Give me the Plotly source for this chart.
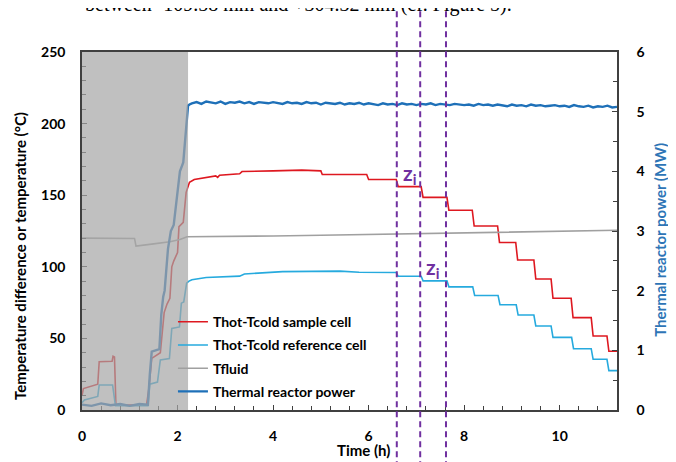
import plotly.graph_objects as go

# ---------------- data ----------------
t_sample = [0.0, 0.03, 0.33, 0.36, 0.63, 0.65, 0.68, 0.71, 1.35, 1.40, 1.46, 1.64, 1.72, 1.78,
            1.84, 1.88, 1.92, 2.00, 2.03, 2.12, 2.18, 2.22, 2.25, 2.35, 2.60, 2.80, 2.84, 2.88,
            3.30, 3.35, 4.00, 4.60, 5.00, 5.03, 5.96, 6.00, 6.58, 6.62, 7.10, 7.14, 7.64, 7.68,
            8.17, 8.21, 8.70, 8.74, 9.08, 9.12, 9.46, 9.50, 9.82, 9.86, 10.24, 10.28, 10.66,
            10.70, 10.99, 11.03, 11.20]
v_sample = [10, 15, 18, 33.7, 34, 37.5, 37, 3.5, 3.5, 15, 36, 40, 68, 74,
            78, 100, 104, 110, 128, 131, 152, 157, 159, 161, 162.5, 163.5, 162.5, 164,
            165, 166.5, 167, 167.5, 167, 164.5, 164.5, 161, 161, 156, 156, 148.5, 148.5, 139.5,
            139.5, 128.5, 128.5, 117, 117, 104.7, 104.7, 91.5, 91.5, 78, 78, 64.5, 64.5,
            51.7, 51.7, 41, 41]

t_ref = [0.0, 0.05, 0.33, 0.36, 0.64, 0.70, 1.38, 1.42, 1.58, 1.64, 1.83, 1.88, 2.04, 2.08,
         2.13, 2.19, 2.24, 2.30, 2.60, 3.30, 3.40, 4.20, 5.40, 5.80, 6.58, 6.62, 7.10, 7.14,
         7.64, 7.68, 8.18, 8.22, 8.71, 8.75, 9.09, 9.13, 9.46, 9.50, 9.82, 9.86, 10.25, 10.29,
         10.66, 10.70, 10.99, 11.03, 11.20]
v_ref = [5, 7, 9.5, 17.5, 17.5, 3, 3, 18, 19.5, 35, 36, 57, 58, 74.6,
         75.5, 88.6, 90, 91, 92.5, 93.5, 95, 96.6, 97, 96.2, 96, 93.4, 93.4, 90.2,
         90.2, 86, 86, 80, 80, 73.5, 73.5, 66.3, 66.3, 58.7, 58.7, 50.7, 50.7, 42.8,
         42.8, 35.4, 35.4, 27.5, 27.5]

t_fluid = [0.0, 1.10, 1.13, 1.30, 1.50, 1.84, 2.05, 2.20, 2.50, 4.00, 5.00, 6.50, 8.00, 9.50, 11.20]
v_fluid = [120, 119.8, 114.5, 115, 116, 117.5, 119, 121, 121, 121.5, 122, 122.8, 123.5, 124.2, 125.5]

t_power_start = [0.0, 0.2, 0.4, 0.6, 0.8, 1.0, 1.2, 1.38, 1.42, 1.46, 1.62, 1.66, 1.70, 1.73,
                 1.80, 1.86, 1.92, 2.00, 2.05, 2.12, 2.17, 2.22, 2.25]
p_power_start = [0.09, 0.07, 0.11, 0.08, 0.10, 0.07, 0.10, 0.09, 0.6, 0.98, 1.02, 1.6, 1.9, 2.0,
                 2.7, 3.0, 3.1, 3.6, 4.0, 4.15, 4.6, 5.1, 5.12]
p_power_flat = [5.14, 5.16, 5.13, 5.17, 5.15, 5.14, 5.17, 5.13, 5.16, 5.15, 5.17, 5.14, 5.16, 5.13,
                5.16, 5.15, 5.14, 5.16,
                5.15, 5.13, 5.16, 5.14, 5.15, 5.13, 5.16, 5.14, 5.15, 5.12, 5.15, 5.14, 5.13, 5.15,
                5.12, 5.14, 5.13, 5.15, 5.12, 5.14,
                5.13, 5.11, 5.14, 5.12, 5.13, 5.11, 5.14, 5.12, 5.13, 5.11, 5.13, 5.12, 5.14, 5.11,
                5.13, 5.12, 5.11, 5.13, 5.12, 5.11,
                5.12, 5.10, 5.13, 5.11, 5.12, 5.10, 5.12, 5.11, 5.09, 5.12, 5.10, 5.11, 5.09, 5.12,
                5.10, 5.11, 5.09, 5.10, 5.11, 5.09,
                5.10, 5.08, 5.11, 5.09, 5.08, 5.10, 5.07, 5.09, 5.08, 5.10, 5.07, 5.08]
t_power_flat = [round(2.3 + 0.1 * i, 2) for i in range(len(p_power_flat))]
t_power = t_power_start + t_power_flat
p_power = p_power_start + p_power_flat

gray_zone_end = 2.22
z_lines = [6.59, 7.08, 7.62]
z_labels = [(6.86, 165), (7.35, 99)]

series_names = ["Thot-Tcold sample cell", "Thot-Tcold reference cell", "Tfluid", "Thermal reactor power"]

# ---------------- figure ----------------
FONT = "Lato"
fig = go.Figure()
fig.add_trace(go.Scatter(x=t_sample, y=v_sample, mode="lines", name=series_names[0],
                         line=dict(color="rgb(222,24,32)", width=1.6), legendgroup="a"))
fig.add_trace(go.Scatter(x=t_ref, y=v_ref, mode="lines", name=series_names[1],
                         line=dict(color="rgb(38,170,222)", width=1.6), legendgroup="b"))
fig.add_trace(go.Scatter(x=t_fluid, y=v_fluid, mode="lines", name=series_names[2],
                         line=dict(color="rgb(160,160,160)", width=1.6), legendgroup="c"))
fig.add_trace(go.Scatter(x=t_power, y=p_power, mode="lines", name=series_names[3], yaxis="y2",
                         line=dict(color="rgb(30,112,184)", width=2.4), legendgroup="d"))

# gray overlay zone
fig.add_shape(type="rect", xref="x", yref="paper", x0=0, x1=gray_zone_end, y0=0, y1=1,
              fillcolor="rgba(165,165,165,0.7)", line=dict(width=0), layer="above")

# purple dashed lines
for xv in z_lines:
    fig.add_shape(type="line", xref="x", yref="paper", x0=xv, x1=xv, y0=-0.16, y1=1.118,
                  line=dict(color="rgb(112,48,160)", width=2, dash="6px,4px"), layer="above")

for (xv, yv) in z_labels:
    fig.add_annotation(x=xv, y=yv, xref="x", yref="y", text="z<sub>i</sub>", showarrow=False,
                       xanchor="center", yanchor="middle",
                       font=dict(family=FONT, size=21, color="rgb(112,48,160)", weight="bold"))

# axis titles as annotations
fig.add_annotation(x=-0.116, y=0.43, xref="paper", yref="paper",
                   text="Temperature difference or temperature (°C)", textangle=-90,
                   xanchor="center", yanchor="middle",
                   showarrow=False, font=dict(family=FONT, size=15, color="black", weight="bold"))
fig.add_annotation(x=1.08, y=0.475, xref="paper", yref="paper",
                   text="Thermal reactor power (MW)", textangle=-90,
                   xanchor="center", yanchor="middle",
                   showarrow=False, font=dict(family=FONT, size=15, color="rgb(46,117,182)", weight="bold"))
fig.add_annotation(x=0.527, y=-0.113, xref="paper", yref="paper", text="Time (h)",
                   xanchor="center", yanchor="middle",
                   showarrow=False, font=dict(family=FONT, size=15, color="black", weight="bold"))

# caption text cut off at the top of the page
fig.add_annotation(x=0.404, y=1.095, xref="paper", yref="paper",
                   text="between -109.58 mm and +304.32 mm (cf. Figure 5).",
                   xanchor="center", yanchor="bottom",
                   showarrow=False, font=dict(family="Liberation Serif", size=20, color="black"))

axis_line = "rgb(64,64,64)"
tickfont = dict(family=FONT, size=14, color="black", weight="bold")
fig.update_layout(
    width=668, height=454,
    margin=dict(l=74, r=59, t=44, b=52),
    paper_bgcolor="white", plot_bgcolor="white",
    showlegend=True,
    legend=dict(x=0.17, y=0.29, xanchor="left", yanchor="top", bgcolor="rgba(0,0,0,0)",
                font=dict(family=FONT, size=14, color="black", weight="bold"),
                tracegroupgap=2, itemwidth=30),
    xaxis=dict(range=[0, 11.2], dtick=2, tick0=0, showgrid=False, zeroline=False,
               showline=True, linecolor=axis_line, linewidth=1.5, mirror=True,
               ticks="inside", ticklen=5, tickwidth=1.2, tickcolor=axis_line,
               minor=dict(dtick=0.4, ticks="inside", ticklen=4, tickcolor=axis_line, tickwidth=1.2),
               tickfont=tickfont, ticklabelstandoff=12),
    yaxis=dict(range=[0, 250], dtick=50, showgrid=False, zeroline=False,
               showline=True, linecolor=axis_line, linewidth=1.5,
               ticks="inside", ticklen=5, tickwidth=1.2, tickcolor=axis_line,
               minor=dict(dtick=10, ticks="inside", ticklen=4, tickcolor=axis_line, tickwidth=1.2),
               tickfont=tickfont, ticklabelstandoff=12),
    yaxis2=dict(range=[0, 6], dtick=1, overlaying="y", side="right", showgrid=False, zeroline=False,
                showline=True, linecolor=axis_line, linewidth=1.5,
                ticks="inside", ticklen=5, tickwidth=1.2, tickcolor=axis_line,
                minor=dict(dtick=0.5, ticks="inside", ticklen=4, tickcolor=axis_line, tickwidth=1.2),
                tickfont=tickfont, ticklabelstandoff=15),
)

fig.write_html("out.html")
